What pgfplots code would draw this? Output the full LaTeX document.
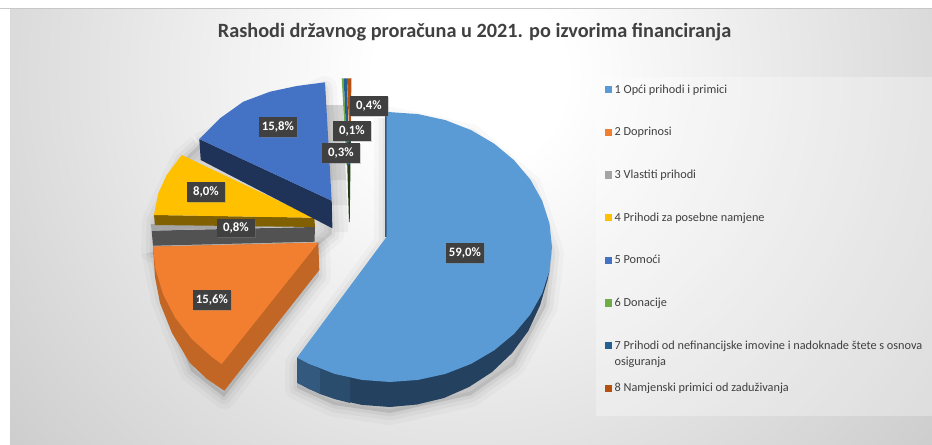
\documentclass[border=0pt]{standalone}
\usepackage{pgfplots}
\usepackage{pgfplotstable}
\usepackage{fontspec}
\usetikzlibrary{shadows}
\pgfplotsset{compat=1.18}
\setmainfont{Carlito}

\definecolor{sa}{HTML}{5B9BD5}
\definecolor{sb}{HTML}{F27F30}
\definecolor{sc}{HTML}{A5A5A5}
\definecolor{sd}{HTML}{FFC000}
\definecolor{se}{HTML}{4472C4}
\definecolor{sf}{HTML}{70AD47}
\definecolor{sg}{HTML}{255E91}
\definecolor{sh}{HTML}{B5500F}
\definecolor{txt}{HTML}{404040}
\definecolor{sidea}{HTML}{24415F}
\definecolor{sideal}{HTML}{33597F}
\definecolor{sidem}{HTML}{2A4D6E}
\definecolor{pc}{HTML}{C2C2C2}

\pgfdeclareradialshading{panel}{\pgfpoint{0bp}{0bp}}{color(0bp)=(white); color(3.2bp)=(white); color(23.6bp)=(pc); color(50bp)=(pc)}

\tikzset{lab/.style={fill=txt,text=white,inner sep=0pt,minimum width=28.5pt,minimum height=15pt,
    font=\fontsize{9.6}{11}\selectfont\bfseries,
    drop shadow={opacity=0.35,shadow xshift=1pt,shadow yshift=-1pt}}}

% all coordinates are pixels of the 932x444 picture
\pgfplotstableread{
x y
386.7 111.9
418.1 114.1
445.4 120.1
471.0 130.1
494.1 143.6
514.1 160.2
530.3 179.5
542.2 200.8
549.5 223.6
552.0 247.0
549.5 270.4
542.2 293.2
530.3 314.5
514.1 333.8
494.1 350.4
471.0 363.9
445.4 373.9
418.1 379.9
390.0 382.0
361.9 379.9
334.6 373.9
309.0 363.9
297.0 357.6
386.7 236.7
}\topa
\pgfplotstableread{
x y
549.5 270.4
547.5 280.0
540.2 305.0
528.3 331.0
512.1 353.0
492.1 372.0
469.0 387.0
444.0 398.0
417.0 404.5
390.0 407.0
361.9 404.9
334.6 398.9
309.0 388.9
297.0 382.6
297.0 357.6
}\sidea
\pgfplotstableread{
x y
153.0 246.7
155.5 268.9
163.0 294.0
175.1 317.5
191.6 338.8
212.0 357.1
221.7 364.0
318.3 242.7
}\topb
\pgfplotstableread{
x y
153.0 246.7
155.0 277.0
160.0 303.0
172.0 333.0
190.0 363.0
207.0 379.0
224.3 390.7
319.3 270.0
318.3 242.7
}\sideb
\pgfplotstableread{
x y
181.7 155.0
166.7 175.0
158.3 193.3
154.0 215.0
314.3 217.7
}\topd
\pgfplotstableread{
x y
199.3 139.0
220.0 118.3
243.3 101.7
270.0 91.7
296.7 86.0
325.0 82.3
331.7 200.7
}\tope

\newcommand\softshadow[1]{%
  \addplot[forget plot,fill=black,draw=black,opacity=0.025,line width=18pt,line join=round] table {#1};
  \addplot[forget plot,fill=black,draw=black,opacity=0.035,line width=11pt,line join=round] table {#1};
  \addplot[forget plot,fill=black,draw=black,opacity=0.045,line width=5pt,line join=round] table {#1};
}
\pgfplotstableread{
x y
386 118
471 136
530 186
552 253
546 306
514 365
471 395
390 413
334 405
297 388
297 364
386 243
386 118
}\shada
\pgfplotstableread{
x y
153 252
163 300
191 371
224 397
319 276
318 249
153 252
}\shadb
\pgfplotstableread{
x y
199 145
325 88
332 234
315 248
153 251
154 221
182 161
199 145
}\shadc

\begin{document}
\begin{tikzpicture}
\begin{axis}[
  scale only axis,width=699pt,height=333pt,
  xmin=0,xmax=932,ymin=0,ymax=444,y dir=reverse,
  hide axis,no markers,
  legend style={
    at={(axis cs:604.5,82.5)},anchor=north west,
    draw=none,fill=none,inner sep=0pt,outer sep=0pt,
    row sep=21pt,
    font=\fontsize{9.2}{12}\selectfont,text=txt,
    nodes={inner xsep=2pt,inner ysep=0pt,text height=8pt,text depth=3pt},
  },
  legend cell align=left,
  legend image code/.code={\path[#1,draw=none] (0pt,-2.6pt) rectangle (5.6pt,2.8pt);},
  slice/.style={forget plot,draw=none},
  face/.style={draw=none,fill=#1},
]
% panel background
\path[use as bounding box] (axis cs:0,0) rectangle (axis cs:932,444);
\begin{scope}
\clip (axis cs:10,9) rectangle (axis cs:932,444);
\shade[shading=panel] (axis cs:-280,-665) rectangle (axis cs:1220,815);
\end{scope}
\draw[black!22,line width=0.8pt] (axis cs:0,8.5) -- (axis cs:932,8.5);
\fill[white,opacity=0.3] (axis cs:596,77) rectangle (axis cs:932,416);

% shadows
\softshadow{\shada}
\softshadow{\shadb}
\softshadow{\shadc}
\addplot[slice,fill=black,opacity=0.07] coordinates {(326,105) (343,105) (346,180) (330,180)};
\addplot[slice,fill=black,opacity=0.05] coordinates {(326,105) (343,105) (347,205) (332,205)};
\addplot[slice,fill=black,opacity=0.04] coordinates {(326,105) (343,105) (348,232) (334,232)};

% 1
\addplot[slice,fill=sidea] table {\sidea};
\addplot[slice,fill=sidem] coordinates {(320,369) (320,394) (334.6,398.9) (350,403) (350,378) (334.6,373.9)};
\addplot[slice,fill=sideal] coordinates {(297,357.6) (297,382.6) (309,388.9) (320,394) (320,369) (309,363.9)};
\addplot[slice,fill=sideal] coordinates {(385.4,112) (386.8,112) (386.8,237) (385.4,237)};
\addplot[face=sa] table {\topa};
\addlegendentry{1 Opći prihodi i primici}
% 2
\addplot[slice,fill=sb!80!black] table {\sideb};
\addplot[face=sb] table {\topb};
\addlegendentry{2 Doprinosi}
% 3
\addplot[slice,fill=black!68] coordinates {(151.7,230.7) (315,227) (314.5,241.7) (153,245.7)};
\addplot[face=sc] coordinates {(150.7,224) (315,226) (151.7,230.7)};
\addlegendentry{3 Vlastiti prihodi}
% 4
\addplot[slice,fill=sd!50!black] coordinates {(154,215) (314.3,217.7) (315,227) (155,225)};
\addplot[face=sd] table {\topd};
\addlegendentry{4 Prihodi za posebne namjene}
% 5
\addplot[slice,fill=se!45!black] coordinates {(199.3,139) (331.7,200.7) (332.4,228.3) (200.7,160)};
\addplot[face=se] table {\tope};
\addlegendentry{5 Pomoći}
% 6, 7, 8
\addplot[slice,fill=sf!35!black] coordinates {(346,125) (351,125) (349.7,222) (349,222)};
\addplot[face=sf] coordinates {(341.7,78.3) (343.7,78.3) (347.5,165) (346.5,165)};
\addlegendentry{6 Donacije}
\addplot[face=sg] coordinates {(343.7,78.3) (347,78.3) (349.3,165) (347.5,165)};
\addlegendentry{\smash{\parbox[t]{236pt}{7 Prihodi od nefinancijske imovine i nadoknade štete s osnova\\osiguranja}}}
\addplot[face=sh] coordinates {(347,78.3) (351.5,78.3) (350.5,135) (349.3,135)};
\addlegendentry{8 Namjenski primici od zaduživanja}

% data labels
\node[lab] at (axis cs:465,253) {59,0\%};
\node[lab] at (axis cs:212,300) {15,6\%};
\node[lab] at (axis cs:206,192) {8,0\%};
\node[lab] at (axis cs:278,127) {15,8\%};
\node[lab,minimum height=13pt] at (axis cs:236,228) {0,8\%};
\node[lab] at (axis cs:369,106) {0,4\%};
\node[lab] at (axis cs:352,131) {0,1\%};
\node[lab] at (axis cs:341,153) {0,3\%};

\node[text=txt,font=\fontsize{15.2}{17}\selectfont\bfseries] at (axis cs:474.5,32)
  {Rashodi državnog proračuna u 2021. po izvorima financiranja};
\end{axis}
\end{tikzpicture}
\end{document}
